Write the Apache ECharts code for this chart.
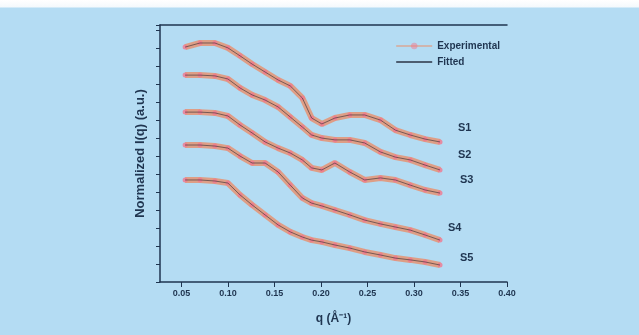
<!DOCTYPE html>
<html>
<head>
<meta charset="utf-8">
<script src="https://cdn.jsdelivr.net/npm/echarts@6/dist/echarts.min.js"></script>
<style>
  html, body {margin: 0; padding: 0;}
  body {width: 639px; height: 335px; background: linear-gradient(#ffffff 0, #f4f9fc 7px, #b4dcf3 8px);}
  #chart {width: 639px; height: 335px;}
</style>
</head>
<body>
<div id="chart"></div>
<script>
// q values (1/Å) shared by all curves
const q = [0.054, 0.070, 0.086, 0.100, 0.113, 0.126, 0.140, 0.154, 0.167, 0.180,
           0.190, 0.201, 0.215, 0.231, 0.247, 0.264, 0.280, 0.296, 0.312, 0.328]
const s1 = [91.4, 93.0, 93.0, 91.1, 88.0, 84.8, 81.7, 78.6, 76.3, 71.6, 63.8, 61.5, 63.8, 65.0, 65.0, 63.0, 59.1, 57.2, 55.6, 54.5]
const s2 = [80.5, 80.5, 80.2, 79.0, 75.5, 72.8, 70.8, 68.1, 64.2, 60.3, 57.2, 56.0, 55.3, 55.3, 54.1, 50.6, 48.6, 47.5, 45.5, 43.6]
const s3 = [66.1, 66.1, 65.8, 64.6, 61.1, 58.0, 54.5, 52.1, 50.2, 47.5, 44.4, 43.6, 46.3, 42.8, 39.7, 40.5, 39.7, 37.7, 35.8, 34.6]
const s4 = [53.3, 53.3, 52.9, 52.1, 49.0, 46.3, 46.3, 42.8, 37.7, 32.7, 30.7, 29.6, 28.0, 26.1, 24.1, 22.6, 21.4, 20.2, 18.3, 16.3]
const s5 = [39.7, 39.7, 39.3, 38.5, 33.9, 30.0, 26.1, 22.2, 19.5, 17.5, 16.3, 15.6, 14.4, 13.2, 11.7, 10.5, 9.3, 8.6, 7.8, 6.6]
const sampleNames = ['S1', 'S2', 'S3', 'S4', 'S5']
const xTicks = [0.05, 0.10, 0.15, 0.20, 0.25, 0.30, 0.35, 0.40]

const samples = [s1, s2, s3, s4, s5]
const labelOffsets = [[10, -14], [10, -15], [12, -13], [0, -12], [12, -7]]
const ink = '#1f3550'

const chart = echarts.init(document.getElementById('chart'))

const expSeries = samples.map((s) => ({
  name: 'Experimental',
  type: 'line',
  data: s.map((v, j) => [q[j], v]),
  symbol: 'circle',
  symbolSize: 5,
  itemStyle: {color: '#f1788e', opacity: 0.8},
  lineStyle: {color: '#e98e6a', width: 6, opacity: 0.8},
  z: 2
}))

const fitSeries = samples.map((s, i) => ({
  name: 'Fitted',
  type: 'line',
  data: s.map((v, j) => [q[j], v]),
  symbol: 'none',
  itemStyle: {color: '#2b3344'},
  lineStyle: {color: '#4a3a3e', width: 1, opacity: 0.7},
  endLabel: {
    show: true,
    formatter: sampleNames[i],
    color: ink,
    fontSize: 11,
    fontWeight: 'bold',
    offset: labelOffsets[i]
  },
  z: 3
}))

chart.setOption({
  animation: false,
  backgroundColor: 'transparent',
  textStyle: {fontFamily: 'Liberation Sans, Arial, sans-serif'},
  grid: {left: 160, top: 25, right: 132, bottom: 53},
  legend: {
    orient: 'vertical',
    right: 134,
    top: 36,
    itemWidth: 36,
    itemHeight: 8,
    itemGap: 6,
    align: 'left',
    data: [
      {name: 'Experimental', itemStyle: {opacity: 0.5}, lineStyle: {opacity: 0.5}},
      {name: 'Fitted', itemStyle: {opacity: 0}, lineStyle: {color: '#2b3344', width: 1.5, opacity: 1}}
    ],
    textStyle: {color: ink, fontSize: 10, fontWeight: 'bold'}
  },
  xAxis: [{
    type: 'value',
    min: 0.027,
    max: 0.40,
    name: 'q (Å⁻¹)',
    nameLocation: 'middle',
    nameGap: 31,
    nameTextStyle: {color: ink, fontSize: 12, fontWeight: 'bold'},
    axisLine: {lineStyle: {color: ink, width: 1.5}},
    axisTick: {customValues: xTicks, length: 5, lineStyle: {color: ink}},
    axisLabel: {
      customValues: xTicks,
      color: ink,
      fontSize: 9,
      fontWeight: 'bold',
      margin: 7,
      formatter: (v) => v.toFixed(2)
    },
    splitLine: {show: false}
  }, {
    type: 'value',
    position: 'top',
    min: 0.027,
    max: 0.40,
    axisLine: {show: true, lineStyle: {color: ink, width: 1.5}},
    axisTick: {show: false},
    axisLabel: {show: false},
    splitLine: {show: false}
  }],
  yAxis: {
    type: 'value',
    min: 0,
    max: 100,
    interval: 7,
    name: 'Normalized I(q) (a.u.)',
    nameLocation: 'middle',
    nameGap: 13,
    nameTextStyle: {color: ink, fontSize: 13, fontWeight: 'bold'},
    axisLine: {show: true, lineStyle: {color: ink, width: 1.5}},
    axisTick: {show: true, length: 4, lineStyle: {color: ink}},
    axisLabel: {show: false},
    splitLine: {show: false}
  },
  series: [...expSeries, ...fitSeries]
})
</script>
</body>
</html>
